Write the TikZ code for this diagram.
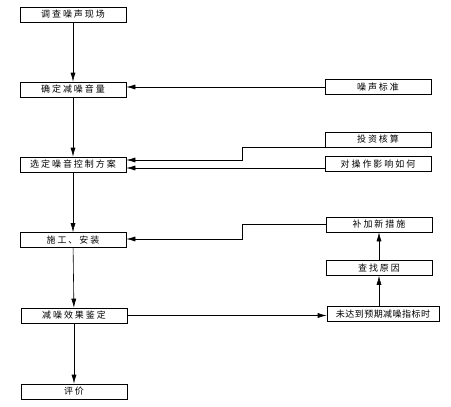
\documentclass[tikz,border=0pt]{standalone}
\usepackage{fontspec}
\usepackage{tikz}
\usetikzlibrary{positioning,arrows.meta}
\newfontfamily\cjk[LetterSpace=22]{Noto Sans CJK SC}

\begin{document}
\begin{tikzpicture}[x=1pt,y=-1pt,
  stepbox/.style={draw,line width=0.6pt,minimum width=106pt,minimum height=15pt,inner sep=0pt,font=\cjk\fontsize{9}{10}\selectfont},
  arr/.style={-{Latex[length=9pt,width=5pt]},line width=0.6pt}]
\useasboundingbox (0,0) rectangle (451,407);
% main chain
\node[stepbox] (survey) at (73,14.5) {调查噪声现场};
\node[stepbox] (target) at (73,89.5) {确定减噪音量};
\node[stepbox] (scheme) at (73,164.5) {选定噪音控制方案};
\node[stepbox] (build) at (73,240) {施工、安装};
\node[stepbox] (check) at (74,315.5) {减噪效果鉴定};
\node[stepbox] (judge) at (74,391.5) {评价};
% side inputs
\node[stepbox] (norm) at (378,87) {噪声标准};
\node[stepbox] (cost) at (378,139.5) {投资核算};
\node[stepbox] (ops) at (378,164) {对操作影响如何};
\node[stepbox] (extra) at (379,224.5) {补加新措施};
\node[stepbox] (cause) at (379,268) {查找原因};
\node[stepbox,minimum width=112pt,font=\cjk\fontsize{9}{10}\selectfont\addfontfeature{LetterSpace=5}] (miss) at (383,314) {未达到预期减噪指标时};
\coordinate (bendA) at (242,160);
\coordinate (bendB) at (242,239);
\coordinate (opsout) at ([yshift=-4pt]ops.west);
% arrows
\draw[arr] (survey) -- (target);
\draw[arr] (target) -- (scheme);
\draw[arr] (scheme) -- (build);
\draw[arr] (build) -- (check);
\draw[arr] (check) -- (judge);
\draw[arr] (norm.west) -- (target.east |- norm.west);
\draw[arr] (cost.south west) -| (bendA) -- (bendA -| scheme.east);
\draw[arr] (opsout) -- (scheme.east |- opsout);
\draw[arr] (extra.west) -| (bendB) -- (bendB -| build.east);
\draw[arr] (check.east) -- (check.east -| miss.west);
\draw[arr] (miss.north -| cause) -- (cause.south);
\draw[arr] (cause) -- (extra);
\end{tikzpicture}
\end{document}
